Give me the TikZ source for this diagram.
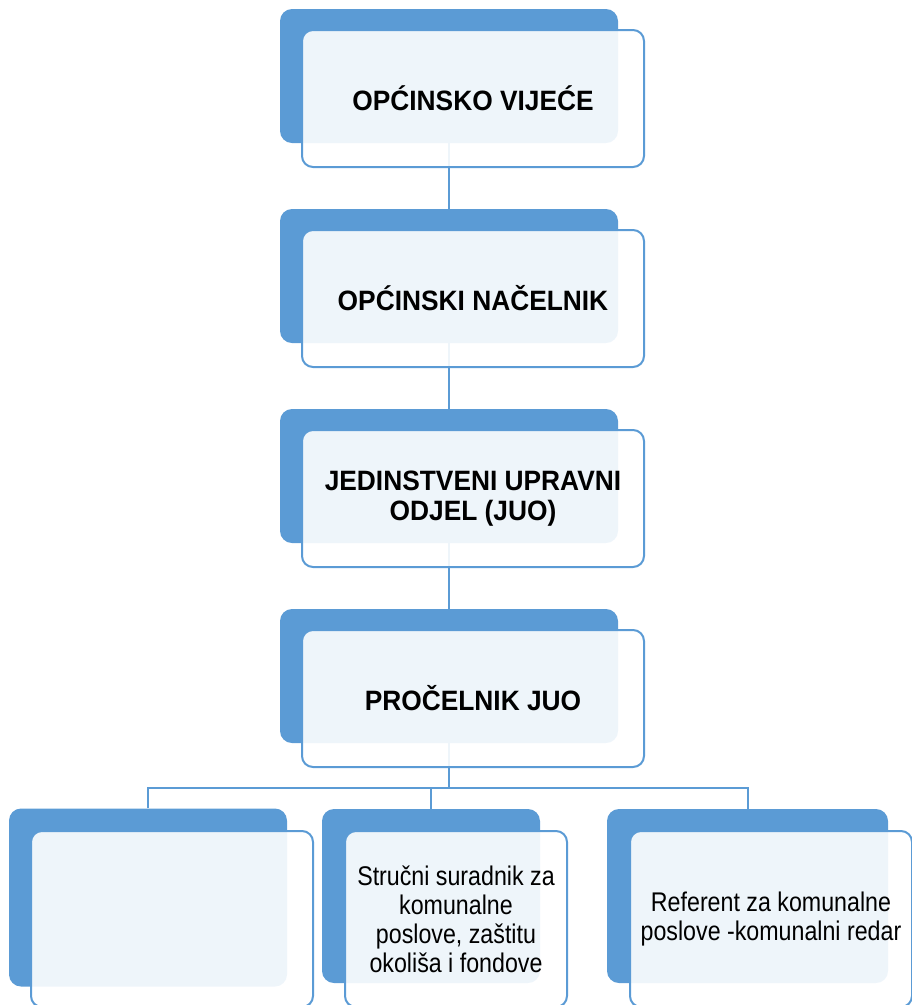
\documentclass[tikz,border=0pt]{standalone}
\usepackage{fontspec}
\setmainfont{Liberation Sans}
\newfontfamily\topfont[FakeStretch=0.94]{Liberation Sans}
\newfontfamily\lowfont[FakeStretch=0.86]{Liberation Sans}
\definecolor{orgblue}{HTML}{5B9BD5}
\begin{document}
\begin{tikzpicture}[x=1pt, y=-1pt,
        backbox/.style={fill=orgblue, rounded corners=12pt, inner sep=0pt},
        frontbox/.style={draw=orgblue, line width=2pt, fill=white, fill opacity=0.9,
            text opacity=1, rounded corners=11pt, inner sep=4pt, align=center},
        toptext/.style={font=\topfont\fontsize{28}{29.5}\selectfont\bfseries},
        lowtext/.style={font=\lowfont\fontsize{27}{29}\selectfont},
        link/.style={draw=orgblue, line width=2pt}]
        \useasboundingbox (0,0) rectangle (912,1005);

        % Back boxes
        \foreach \n/\y in {1/76, 2/276, 3/476, 4/676}
            \node[backbox, minimum width=338, minimum height=134] (b\n) at (449,\y) {};
        \node[backbox, minimum width=278, minimum height=178] (bl) at (148,897.5) {};
        \node[backbox, minimum width=218, minimum height=174] (bm) at (431,896) {};
        \node[backbox, minimum width=281, minimum height=174] (br) at (747.5,896) {};

        % Edges
        \coordinate (split) at (449,788);
        \foreach \a/\b in {b1/b2, b2/b3, b3/b4}
            \draw[link] (\a.south) -- (\b.north);
        \draw[link] (b4.south) -- (split);
        \draw[link] (bl.north) |- (split) -| (br.north);
        \draw[link] (split -| bm.north) -- (bm.north);

        % Front boxes
        \foreach \n/\y/\txt in {1/98.5/{OPĆINSKO VIJEĆE}, 2/298.5/{OPĆINSKI NAČELNIK},
                3/498.5/{JEDINSTVENI UPRAVNI\\ODJEL (JUO)}, 4/698.5/{PROČELNIK JUO}}
            \node[frontbox, toptext, minimum width=342, minimum height=137] (f\n) at (473,\y) {\txt};
        \node[frontbox, lowtext, minimum width=282, minimum height=176] (fl) at (172,919) {};
        \node[frontbox, lowtext, minimum width=222, minimum height=176] (fm) at (456,919)
            {Stručni suradnik za\\komunalne\\poslove, zaštitu\\okoliša i fondove};
        \node[frontbox, lowtext, minimum width=282, minimum height=176] (fr) at (771,919)
            {Referent za komunalne\\poslove -komunalni redar};
    \end{tikzpicture}
\end{document}
